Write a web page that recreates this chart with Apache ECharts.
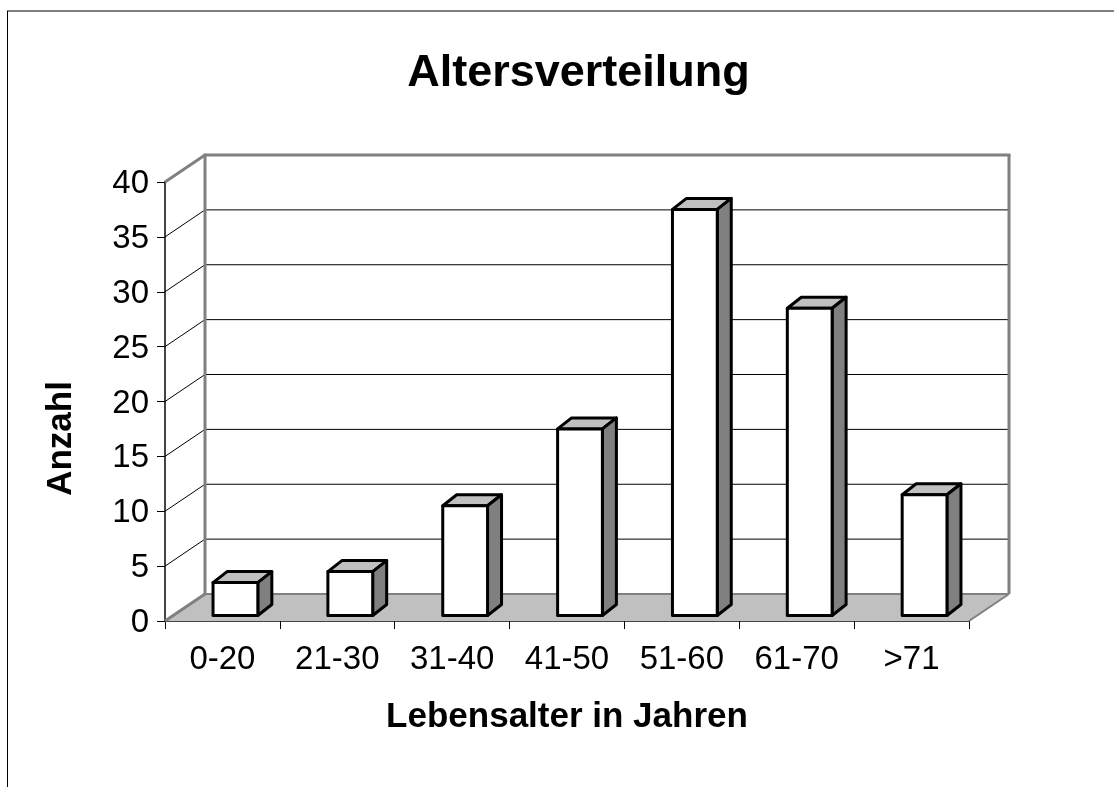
<!DOCTYPE html>
<html>
<head>
<meta charset="utf-8">
<title>Altersverteilung</title>
<script src="https://cdn.jsdelivr.net/npm/echarts@6/dist/echarts.min.js"></script>
<style>
html, body { margin: 0; padding: 0; background: #fff; }
#chart { width: 1114px; height: 787px; }
</style>
</head>
<body>
<div id="chart"></div>
<script>
var categories = ['0-20', '21-30', '31-40', '41-50', '51-60', '61-70', '>71'];
var counts = [3, 4, 10, 17, 37, 28, 11];
var gridTicks = [5, 10, 15, 20, 25, 30, 35];

var FONT = '"Liberation Sans", Arial, sans-serif';
// 3d look of the old chart, in pixels
var wallDx = 40, wallDy = -27;
var barDx = 13, barDy = -5.5;
var sideDx = 14, sideDy = -11;

var mychart = echarts.init(document.getElementById('chart'));

function line(x1, y1, x2, y2, color, width) {
    return {
        type: 'line',
        shape: { x1: x1, y1: y1, x2: x2, y2: y2 },
        style: { stroke: color, lineWidth: width }
    };
}

function poly(points, fill, stroke, width) {
    return {
        type: 'polygon',
        shape: { points: points },
        style: { fill: fill, stroke: stroke, lineWidth: width, lineJoin: 'round' }
    };
}

function renderWalls(params, api) {
    var r = params.coordSys;
    var left = r.x, right = r.x + r.width;
    var y0 = api.coord([0, 0])[1];
    var y40 = api.coord([0, 40])[1];
    var children = [];

    children.push(poly([
        [left, y0], [right, y0], [right + wallDx, y0 + wallDy], [left + wallDx, y0 + wallDy]
    ], '#c0c0c0', null, 0));

    gridTicks.forEach(function (t) {
        var y = api.coord([0, t])[1];
        children.push(line(left, y, left + wallDx, y + wallDy, '#000', 1));
        children.push(line(left + wallDx, y + wallDy, right + wallDx, y + wallDy, '#000', 1));
    });

    children.push(line(left, y0, left + wallDx, y0 + wallDy, '#808080', 3));
    children.push(line(right, y0, right + wallDx, y0 + wallDy, '#808080', 2));
    children.push(line(left + wallDx, y0 + wallDy, right + wallDx, y0 + wallDy, '#808080', 2));
    children.push(line(left, y40, left + wallDx, y40 + wallDy, '#808080', 3));
    children.push(line(left + wallDx, y40 + wallDy - 1.5, left + wallDx, y0 + wallDy, '#808080', 3));
    children.push(line(left + wallDx, y40 + wallDy, right + wallDx + 1.5, y40 + wallDy, '#808080', 3));
    children.push(line(right + wallDx, y40 + wallDy, right + wallDx, y0 + wallDy, '#808080', 3));

    return { type: 'group', children: children };
}

function renderBar(params, api) {
    var i = api.value(0);
    var top = api.coord([i, api.value(1)]);
    var bottom = api.coord([i, 0]);
    var w = api.size([1, 0])[0] * 0.39;
    var x1 = top[0] + barDx - w / 2, x2 = x1 + w;
    var yt = top[1] + barDy, yb = bottom[1] + barDy;
    var line_w = 3;

    return {
        type: 'group',
        children: [
            poly([[x1, yt], [x1 + sideDx, yt + sideDy], [x2 + sideDx, yt + sideDy], [x2, yt]], '#c0c0c0', '#000', line_w),
            poly([[x2, yt], [x2 + sideDx, yt + sideDy], [x2 + sideDx, yb + sideDy], [x2, yb]], '#808080', '#000', line_w),
            poly([[x1, yt], [x2, yt], [x2, yb], [x1, yb]], '#fff', '#000', line_w)
        ]
    };
}

var option = {
    animation: false,
    backgroundColor: '#fff',
    textStyle: { fontFamily: FONT },
    title: {
        text: 'Altersverteilung',
        left: 573.5,
        top: 46,
        textAlign: 'center',
        textStyle: { fontFamily: FONT, fontSize: 45, fontWeight: 'bold', color: '#000' }
    },
    graphic: [
        { type: 'line', shape: { x1: 7, y1: 11, x2: 1114, y2: 11 }, style: { stroke: '#808080', lineWidth: 2 } },
        { type: 'line', shape: { x1: 7.5, y1: 11, x2: 7.5, y2: 787 }, style: { stroke: '#000', lineWidth: 1 } }
    ],
    grid: { left: 165, top: 182, width: 804, height: 439 },
    xAxis: {
        type: 'category',
        data: categories,
        name: 'Lebensalter in Jahren',
        nameLocation: 'middle',
        nameGap: 79,
        nameTextStyle: { fontFamily: FONT, fontSize: 35, fontWeight: 'bold', color: '#000' },
        axisLine: { lineStyle: { color: '#444', width: 2 } },
        axisTick: { show: true, length: 8, lineStyle: { color: '#000', width: 1 } },
        axisLabel: { fontFamily: FONT, fontSize: 33, color: '#000', margin: 22, interval: 0 },
        splitLine: { show: false }
    },
    yAxis: {
        type: 'value',
        min: 0,
        max: 40,
        interval: 5,
        name: 'Anzahl',
        nameLocation: 'middle',
        nameGap: 86,
        nameTextStyle: { fontFamily: FONT, fontSize: 35, fontWeight: 'bold', color: '#000', padding: [0, 74, 0, 0] },
        axisLine: { show: true, lineStyle: { color: '#444', width: 2 } },
        axisTick: { show: true, length: 8, lineStyle: { color: '#000', width: 1 } },
        axisLabel: { fontFamily: FONT, fontSize: 33, color: '#000', margin: 16, verticalAlign: 'top', lineHeight: 4 },
        splitLine: { show: false }
    },
    series: [
        {
            name: 'Wand',
            type: 'custom',
            silent: true,
            clip: false,
            z: 1,
            renderItem: renderWalls,
            data: [[0, 0]]
        },
        {
            name: 'Anzahl',
            type: 'custom',
            clip: false,
            z: 3,
            renderItem: renderBar,
            encode: { x: 0, y: 1 },
            data: counts.map(function (v, i) { return [i, v]; })
        }
    ]
};

mychart.setOption(option);
</script>
</body>
</html>
